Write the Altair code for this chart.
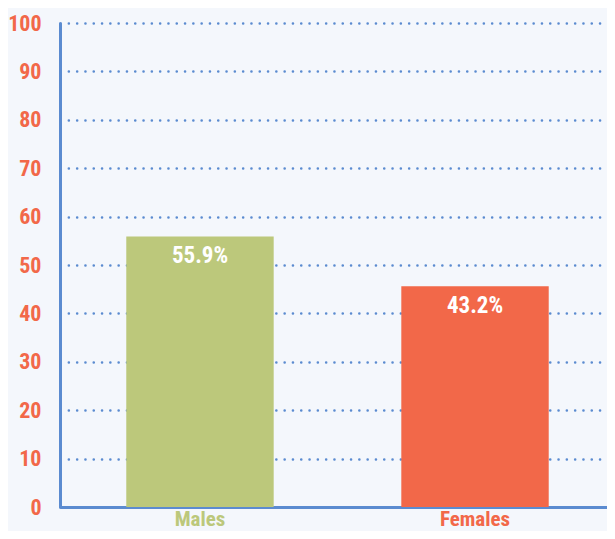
import altair as alt
import pandas as pd

categories = ["Males", "Females"]
bar_values = [55.9, 45.6]
bar_labels = ["55.9%", "43.2%"]
bar_colors = ["#bcc87b", "#f26849"]

df = pd.DataFrame({"group": categories, "value": bar_values, "label": bar_labels, "color": bar_colors})

FONT = "Roboto Condensed, Noto Sans Condensed, Open Sans Condensed, Liberation Sans Narrow, DejaVu Sans Condensed, sans-serif"
BLUE = "#5b8bd0"
ORANGE = "#f26849"
GREEN = "#bcc87b"

x_enc = alt.X(
    "group:N",
    sort=categories,
    scale=alt.Scale(paddingInner=0.464, paddingOuter=0.241),
    axis=alt.Axis(
        title=None,
        labelAngle=0,
        ticks=False,
        domainColor=BLUE,
        domainWidth=3,
        labelFont=FONT,
        labelFontSize=21,
        labelFontWeight="bold",
        labelPadding=1,
        labelColor={"condition": {"test": "datum.value == 'Males'", "value": GREEN}, "value": ORANGE},
        grid=False,
    ),
)

y_enc = alt.Y(
    "value:Q",
    scale=alt.Scale(domain=[0, 100], nice=False),
    axis=alt.Axis(
        title=None,
        values=list(range(0, 101, 10)),
        domainColor=BLUE,
        domainWidth=3,
        grid=True,
        gridColor=BLUE,
        gridWidth=2.5,
        gridDash=[0.1, 8.2],
        gridCap="round",
        tickSize=7,
        tickColor=BLUE,
        tickWidth=2.5,
        tickDash=[0.1, 6.9],
        tickCap="round",
        labelFont=FONT,
        labelFontSize=22,
        labelFontWeight="bold",
        labelColor=ORANGE,
        labelPadding=12,
    ),
)

base = alt.Chart(df)

bars = base.mark_bar().encode(
    x=x_enc,
    y=y_enc,
    color=alt.Color("color:N", scale=None),
)

text = base.mark_text(
    font=FONT, fontSize=23, fontWeight="bold", color="white", baseline="middle", dy=20
).encode(
    x=alt.X("group:N", sort=categories),
    y=alt.Y("value:Q"),
    text="label:N",
)

chart = (
    alt.layer(bars, text)
    .properties(
        width=555,
        height=484,
        background="#f4f7fc",
        autosize="none",
        padding={"left": 52, "top": 15, "right": -8, "bottom": 24},
    )
    .configure_view(stroke=None)
)

chart.save("out.html", embed_options={"renderer": "svg", "actions": False})
